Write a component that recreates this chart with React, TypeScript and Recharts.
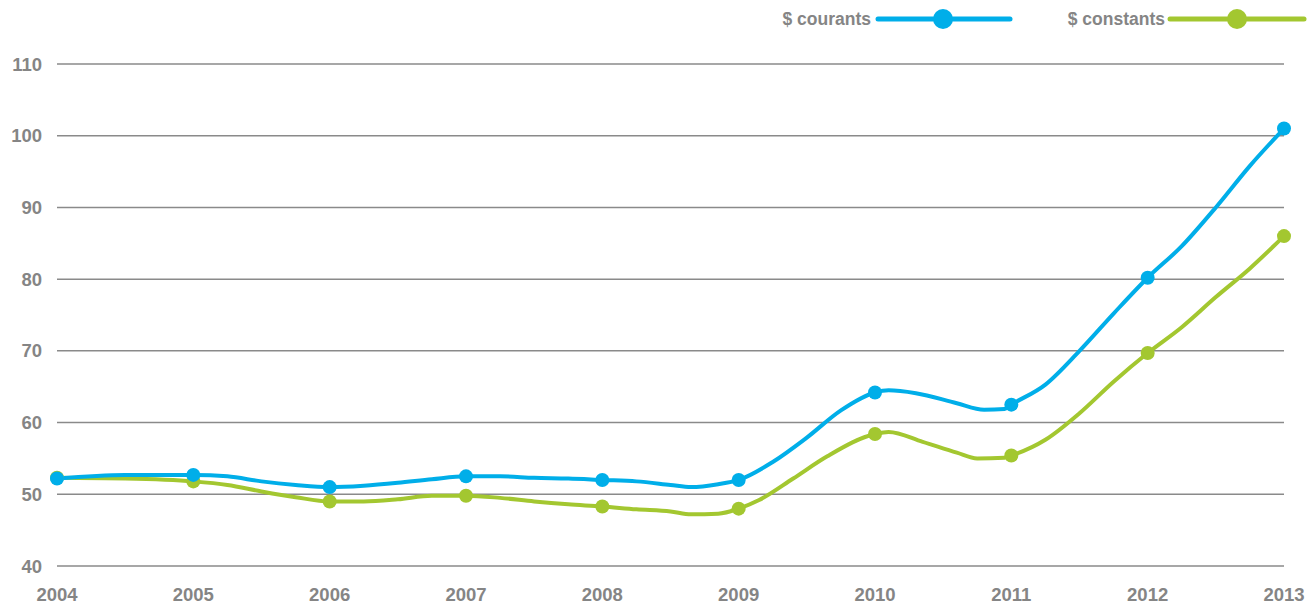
import React from "react";
import { LineChart, Line, XAxis, YAxis, CartesianGrid } from "recharts";

const yearTicks = [2004, 2005, 2006, 2007, 2008, 2009, 2010, 2011, 2012, 2013];
const valueTicks = [40, 50, 60, 70, 80, 90, 100, 110];

const courantsYears = [2004, 2004.5, 2005, 2005.25, 2005.5, 2005.75, 2006, 2006.25, 2006.5, 2006.75, 2007, 2007.25, 2007.5, 2007.75, 2008, 2008.25, 2008.5, 2008.65, 2008.85, 2009, 2009.25, 2009.5, 2009.75, 2010, 2010.1, 2010.3, 2010.6, 2010.8, 2010.95, 2011, 2011.25, 2011.5, 2011.75, 2012, 2012.25, 2012.5, 2012.75, 2013];
const courantsValues = [52.2, 52.7, 52.7, 52.5, 51.8, 51.3, 51.0, 51.2, 51.6, 52.1, 52.5, 52.5, 52.3, 52.2, 52.0, 51.8, 51.3, 51.0, 51.4, 52.0, 54.5, 57.9, 61.7, 64.2, 64.5, 64.1, 62.7, 61.8, 61.9, 62.5, 65.3, 70.0, 75.2, 80.2, 84.6, 90.0, 95.8, 101.0];

const constantsYears = [2004, 2004.5, 2005, 2005.25, 2005.5, 2005.75, 2006, 2006.25, 2006.5, 2006.75, 2007, 2007.25, 2007.5, 2007.75, 2008, 2008.25, 2008.5, 2008.65, 2008.85, 2009, 2009.15, 2009.4, 2009.65, 2010, 2010.1, 2010.35, 2010.6, 2010.75, 2010.95, 2011, 2011.25, 2011.5, 2011.75, 2012, 2012.25, 2012.5, 2012.75, 2013];
const constantsValues = [52.3, 52.2, 51.8, 51.3, 50.4, 49.6, 49.0, 49.0, 49.3, 49.8, 49.8, 49.5, 49.0, 48.6, 48.3, 47.9, 47.6, 47.2, 47.3, 48.0, 49.2, 52.2, 55.3, 58.4, 58.7, 57.3, 55.8, 55.0, 55.1, 55.4, 57.6, 61.3, 65.7, 69.7, 73.3, 77.5, 81.5, 86.0];

const courantsData = courantsYears.map((year, i) => ({ year, value: courantsValues[i] }));
const constantsData = constantsYears.map((year, i) => ({ year, value: constantsValues[i] }));

const BLUE = "#00aee9";
const GREEN = "#a3c730";
const TEXT = "#858585";
const FONT = "'Liberation Sans', Arial, Helvetica, sans-serif";

const makeDot = (color: string) => (props: any) => {
  const { cx, cy, payload, index } = props;
  if (!Number.isInteger(payload.year)) return <g key={`d-${index}`} />;
  return <circle key={`d-${index}`} cx={cx} cy={cy} r={7} fill={color} stroke="none" />;
};

const YTick = (props: any) => {
  const { y, payload } = props;
  return (
    <text x={42} y={y} dy={6.5} textAnchor="end" fill={TEXT} fontSize={18.5} fontWeight={700} fontFamily={FONT}>
      {payload.value}
    </text>
  );
};

const XTick = (props: any) => {
  const { x, payload } = props;
  return (
    <text x={x} y={601} textAnchor="middle" fill={TEXT} fontSize={18.5} fontWeight={700} fontFamily={FONT}>
      {payload.value}
    </text>
  );
};

export default function App() {
  return (
    <div style={{ position: "absolute", left: 0, top: 0, width: 1314, height: 606, background: "#fff" }}>
      <LineChart width={1314} height={606} margin={{ top: 64, right: 30, bottom: 0, left: 0 }}>
        <CartesianGrid horizontal vertical={false} stroke="#8a8a8a" strokeWidth={1.5} />
        <XAxis
          type="number"
          dataKey="year"
          domain={[2004, 2013]}
          ticks={yearTicks}
          height={40}
          axisLine={false}
          tickLine={false}
          tick={<XTick />}
          allowDuplicatedCategory={false}
        />
        <YAxis
          type="number"
          domain={[40, 110]}
          ticks={valueTicks}
          width={57}
          axisLine={false}
          tickLine={false}
          tick={<YTick />}
        />
        <Line
          data={constantsData}
          dataKey="value"
          type="monotone"
          stroke={GREEN}
          strokeWidth={4}
          dot={makeDot(GREEN)}
          activeDot={false}
          isAnimationActive={false}
        />
        <Line
          data={courantsData}
          dataKey="value"
          type="monotone"
          stroke={BLUE}
          strokeWidth={4}
          dot={makeDot(BLUE)}
          activeDot={false}
          isAnimationActive={false}
        />
      </LineChart>
      <svg width={1314} height={40} style={{ position: "absolute", left: 0, top: 0 }}>
        <text x={871} y={25} textAnchor="end" fill={TEXT} fontSize={17.5} fontWeight={700} fontFamily={FONT}>
          $ courants
        </text>
        <line x1={878} y1={19} x2={1010} y2={19} stroke={BLUE} strokeWidth={5} strokeLinecap="round" />
        <circle cx={943} cy={19} r={10} fill={BLUE} />
        <text x={1165} y={25} textAnchor="end" fill={TEXT} fontSize={17.5} fontWeight={700} fontFamily={FONT}>
          $ constants
        </text>
        <line x1={1170} y1={19} x2={1304} y2={19} stroke={GREEN} strokeWidth={5} strokeLinecap="round" />
        <circle cx={1237} cy={19} r={10} fill={GREEN} />
      </svg>
    </div>
  );
}
